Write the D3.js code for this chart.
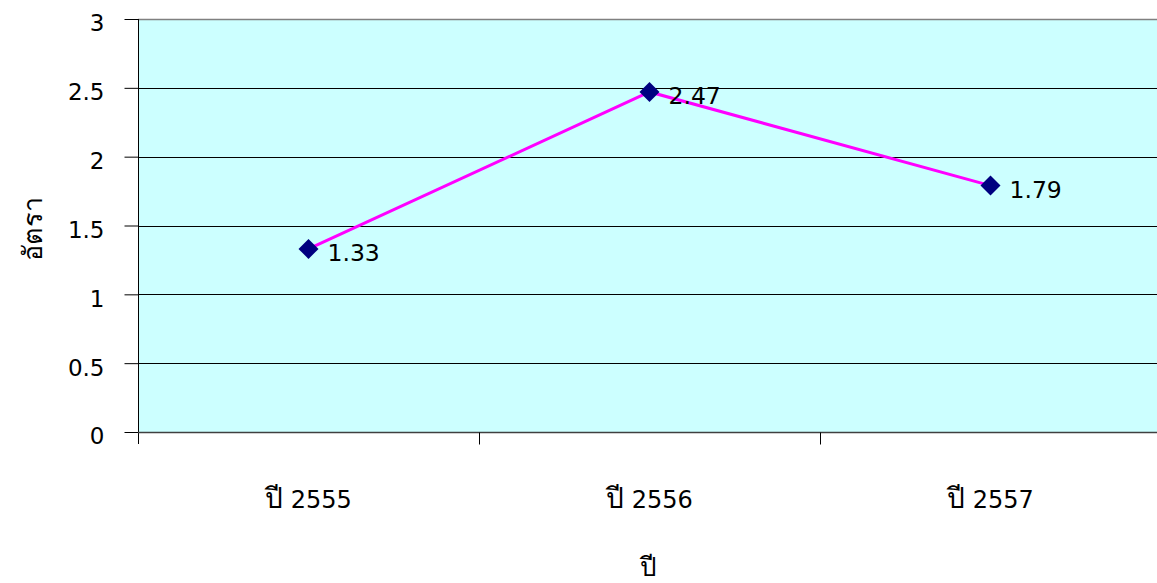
<!DOCTYPE html>
<html><head><meta charset="utf-8">
<script src="https://cdn.jsdelivr.net/npm/d3@7"></script>
<style>body{margin:0;background:#fff}svg{display:block}</style>
</head><body>
<svg id="c" width="1157" height="583"></svg>
<script>
const categories = ["ปี 2555", "ปี 2556", "ปี 2557"];
const values = [1.33, 2.47, 1.79];
const yTicks = [0, 0.5, 1, 1.5, 2, 2.5, 3];
const xTitle = "ปี";
const yTitle = "อัตรา";

const font = "'DejaVu Sans', sans-serif";
const fs = 23;
const fsThai = 28;
const svg = d3.select("#c");
const L = 138, R = 1161, T = 19, B = 432;
const x = d3.scaleBand().domain(categories).range([L, R]);
const y = d3.scaleLinear().domain([0, 3]).range([B, T]);

svg.append("rect").attr("x", L).attr("y", T).attr("width", R - L).attr("height", B - T).attr("fill", "#ccffff");

// gridlines
svg.append("g").selectAll("line").data(yTicks.filter(d => d > 0 && d < 3)).join("line")
  .attr("x1", L).attr("x2", R).attr("y1", d => Math.round(y(d)) + 0.5).attr("y2", d => Math.round(y(d)) + 0.5)
  .attr("stroke", "#000").attr("stroke-width", 1);
// top border
svg.append("line").attr("x1", L).attr("x2", R).attr("y1", T + 0.5).attr("y2", T + 0.5).attr("stroke", "#808080").attr("stroke-width", 1.5);

// y axis
const yAxis = svg.append("g").attr("transform", `translate(${L + 0.5},0)`)
  .call(d3.axisLeft(y).tickValues(yTicks).tickSize(14).tickPadding(20).tickFormat(d3.format("")));
yAxis.select(".domain").attr("stroke", "#000").attr("d", `M0,${T}V${B + 12}`);
yAxis.selectAll(".tick line").attr("stroke", "#000");
yAxis.selectAll("text").attr("font-family", font).attr("font-size", fs).attr("fill", "#000").attr("dy", "0.52em");

// x axis
const xAxis = svg.append("g").attr("transform", `translate(0,${B + 0.5})`)
  .call(d3.axisBottom(x).tickSize(0).tickPadding(58));
xAxis.select(".domain").attr("stroke", "#404040").attr("stroke-width", 1.5).attr("d", `M${L},0H${R}`);
xAxis.selectAll(".tick text").each(function(d) {
  const t = d3.select(this).attr("font-family", font).attr("font-size", 24).attr("fill", "#000").text(null);
  const parts = d.split(" ");
  t.append("tspan").attr("font-size", fsThai).text(parts[0]);
  t.append("tspan").text(" " + parts.slice(1).join(" "));
});
xAxis.append("g").selectAll("line").data(categories.slice(1)).join("line")
  .attr("x1", d => Math.round(x(d)) + 0.5).attr("x2", d => Math.round(x(d)) + 0.5)
  .attr("y1", 0).attr("y2", 12).attr("stroke", "#000");

// line
const px = d => x(d) + x.bandwidth() / 2;
svg.append("path").datum(categories.map((c, i) => [px(c), y(values[i])]))
  .attr("d", d3.line()).attr("fill", "none").attr("stroke", "#ff00ff").attr("stroke-width", 3);

// markers
svg.append("g").selectAll("path").data(categories).join("path")
  .attr("transform", (c, i) => `translate(${px(c)},${y(values[i])})`)
  .attr("d", "M0,-10L10,0L0,10L-10,0Z").attr("fill", "#000080");

// data labels
svg.append("g").selectAll("text").data(categories).join("text")
  .attr("x", c => px(c) + 19).attr("y", (c, i) => y(values[i]) + 12)
  .attr("font-family", font).attr("font-size", 23.5).attr("fill", "#000")
  .text((c, i) => values[i]);

// titles
svg.append("text").attr("x", (L + R) / 2 - 1).attr("y", 576).attr("text-anchor", "middle")
  .attr("font-family", font).attr("font-size", 26).text(xTitle);
svg.append("text").attr("transform", "translate(42,229) rotate(-90)").attr("text-anchor", "middle")
  .attr("font-family", font).attr("font-size", 27).text(yTitle);
</script>
</body></html>
